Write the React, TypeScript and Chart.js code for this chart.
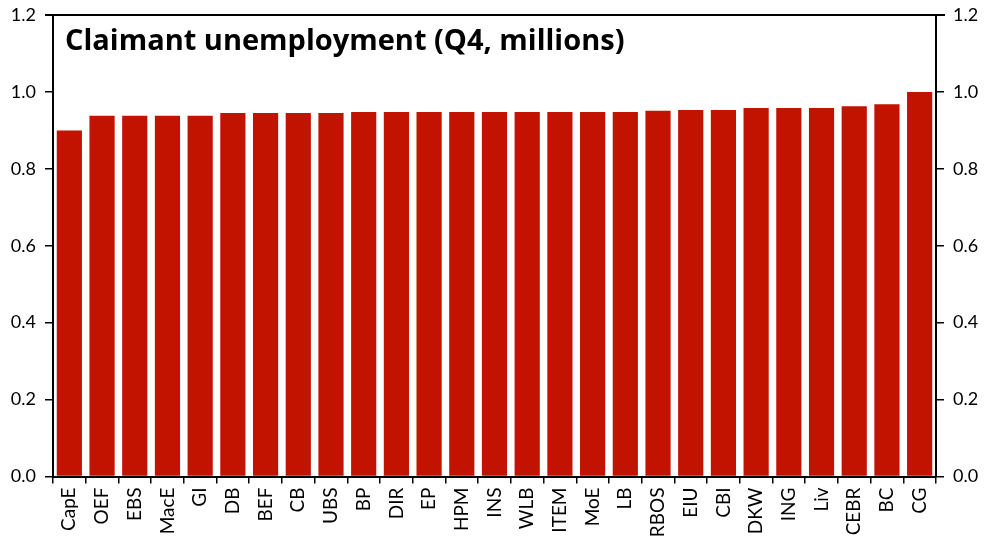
import React, { useEffect, useRef } from "react";
import { Chart, registerables } from "chart.js";

Chart.register(...registerables);

const categories = ["CapE","OEF","EBS","MacE","GI","DB","BEF","CB","UBS","BP","DIR","EP","HPM","INS","WLB","ITEM","MoE","LB","RBOS","EIU","CBI","DKW","ING","Liv","CEBR","BC","CG"];
const values = [0.90,0.938,0.938,0.938,0.938,0.945,0.945,0.945,0.945,0.948,0.948,0.948,0.948,0.948,0.948,0.948,0.948,0.948,0.951,0.953,0.953,0.958,0.958,0.958,0.963,0.968,1.0];
const titleText = "Claimant unemployment (Q4, millions)";
const barColor = "#C21200";
const FONT = "Lato, 'Open Sans', sans-serif";
const TITLE_FONT = "'Open Sans', Lato, sans-serif";

const overlay = {
  id: "overlay",
  afterDraw(chart: any) {
    const { ctx, chartArea } = chart;
    ctx.save();
    ctx.strokeStyle = "#000";
    ctx.lineWidth = 2;
    ctx.beginPath();
    ctx.moveTo(chartArea.left - 8, chartArea.top);
    ctx.lineTo(chartArea.right + 9, chartArea.top);
    ctx.stroke();
    ctx.fillStyle = "#000";
    ctx.font = `bold 29px ${TITLE_FONT}`;
    ctx.textBaseline = "alphabetic";
    ctx.textAlign = "left";
    ctx.fillText(titleText, chartArea.left + 12, chartArea.top + 35);
    ctx.restore();
  },
};

export default function App() {
  const ref = useRef<HTMLCanvasElement>(null);
  useEffect(() => {
    document.body.style.margin = "0";
    const yTicks = {
      color: "#000",
      font: { family: FONT, size: 18 },
      stepSize: 0.2,
      padding: 9,
      callback: (v: any) => Number(v).toFixed(1),
    };
    const yGrid = { drawOnChartArea: false, drawTicks: true, tickLength: 8, color: "#000", lineWidth: 1.5 };
    const chart = new Chart(ref.current!, {
      type: "bar",
      data: {
        labels: categories,
        datasets: [{ data: values, backgroundColor: barColor, barPercentage: 0.77, categoryPercentage: 1 }],
      },
      options: {
        animation: false,
        responsive: false,
        layout: { padding: { top: 15, left: 0, right: 0, bottom: 0 } },
        plugins: { legend: { display: false }, tooltip: { enabled: false } },
        scales: {
          x: {
            grid: { offset: true, drawOnChartArea: false, tickLength: 7, color: "#000", lineWidth: 1.5 },
            border: { color: "#000", width: 2 },
            ticks: { color: "#000", font: { family: FONT, size: 19 }, minRotation: 90, maxRotation: 90, autoSkip: false, padding: 4 },
            afterFit: (s: any) => { s.height = 61.5; },
          },
          y: {
            position: "left",
            min: 0, max: 1.2,
            grid: yGrid,
            border: { color: "#000", width: 2 },
            ticks: yTicks,
            afterFit: (s: any) => { s.width = 53; s.paddingTop = 0; s.paddingBottom = 0; },
          },
          y2: {
            position: "right",
            min: 0, max: 1.2,
            grid: yGrid,
            border: { color: "#000", width: 2 },
            ticks: yTicks,
            afterFit: (s: any) => { s.width = 50; s.paddingTop = 0; s.paddingBottom = 0; },
          },
        },
      },
      plugins: [overlay],
    } as any);
    return () => chart.destroy();
  }, []);
  return (
    <div style={{ width: 986, height: 538, background: "#fff" }}>
      <canvas ref={ref} width={986} height={538} style={{ display: "block" }} />
    </div>
  );
}
